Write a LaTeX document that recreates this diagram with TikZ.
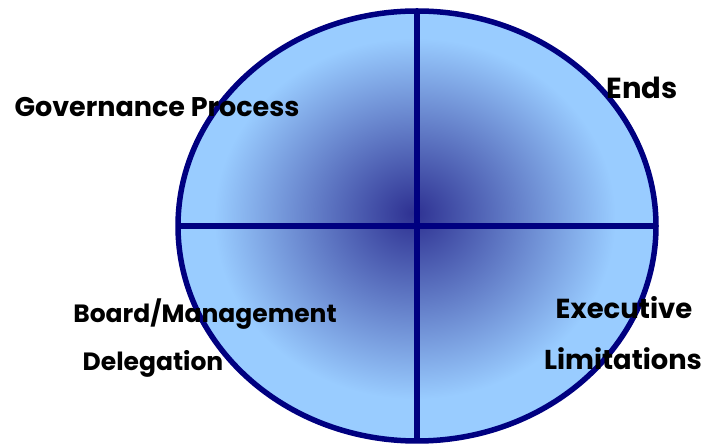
\documentclass[tikz,border=0pt]{standalone}
\usepackage{fontspec}
\setmainfont{Poppins}
\usetikzlibrary{shapes.geometric}
\definecolor{navyline}{HTML}{000080}
\definecolor{darkcore}{HTML}{2E3192}
\definecolor{lightblue}{HTML}{99CCFF}
\pgfdeclareradialshading{quadshade}{\pgfpoint{-0.4bp}{1.5bp}}{color(0bp)=(darkcore); color(21bp)=(lightblue); color(50bp)=(lightblue)}
\tikzset{
  quadlabel/.style={anchor=base, inner sep=0pt, font=\fontsize{#1}{#1}\selectfont\bfseries, text=black},
  quadlabel/.default=27,
  divider/.style={draw=navyline, line width=5.5pt}
}
\begin{document}
\begin{tikzpicture}[x=1pt,y=1pt]
\useasboundingbox (0,0) rectangle (704,444);
\node[ellipse, minimum width=478pt, minimum height=430pt, inner sep=0pt, shading=quadshade] (e) at (417,218) {};
\draw[divider] (e.north) -- (e.south);
\draw[divider] (e.west) -- (e.east);
\node[ellipse, minimum width=478pt, minimum height=430pt, inner sep=0pt, draw=navyline, line width=5.5pt] (eb) at (417,218) {};
\node[quadlabel=27] (gp) at (157,327) {Governance Process};
\node[quadlabel=29] (en) at (642,345) {Ends};
\node[quadlabel=25] (bm) at (205,121) {Board/Management};
\node[quadlabel=25] (de) at (153,73) {Delegation};
\node[quadlabel=27.5] (ex) at (624,125) {Executive};
\node[quadlabel=27.3] (li) at (623,74) {Limitations};
\end{tikzpicture}
\end{document}
